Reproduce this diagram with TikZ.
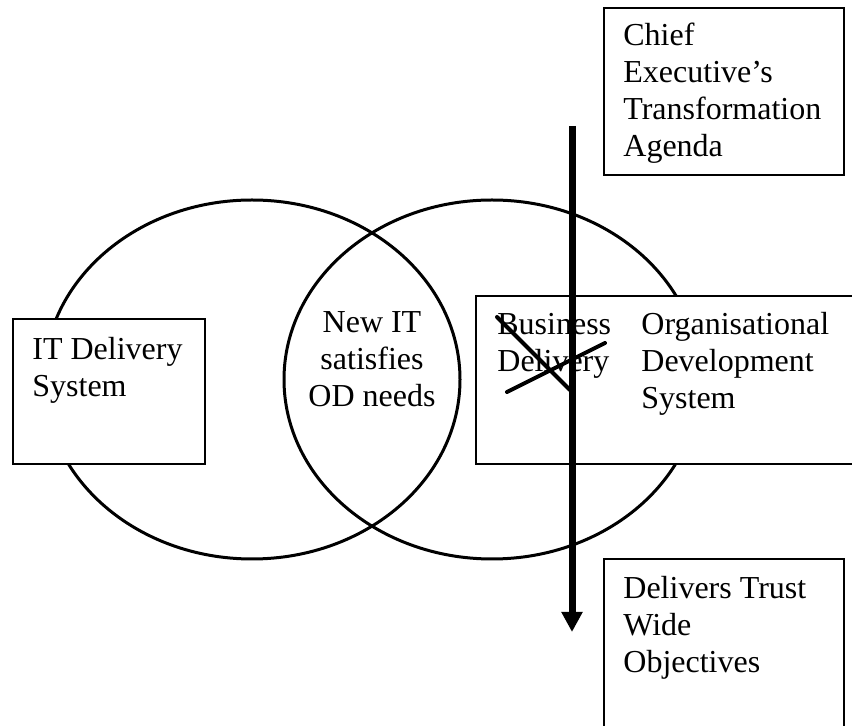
\documentclass[tikz,border=0pt]{standalone}
\usepackage{fontspec}
\setmainfont{Liberation Serif}
\usetikzlibrary{arrows.meta}

\begin{document}
\begin{tikzpicture}[x=0.5pt,y=-0.5pt,
  every node/.style={font=\fontsize{16}{18.5}\selectfont, inner sep=0pt},
  venn/.style={line width=1.5pt},
  box/.style={draw, fill=white, line width=0.9pt, anchor=north west},
  txt/.style={align=left, anchor=base west},
  flow/.style={line width=3.5pt, -{Triangle[width=10pt,length=10pt]}},
  strike/.style={line width=2pt, line cap=round}]
  \useasboundingbox (0,0) rectangle (852,726);
  \clip (0,0) rectangle (852,726);
  \draw[venn] (252,379.5) ellipse [x radius=208, y radius=179.5];
  \draw[venn] (492,379.5) ellipse [x radius=208, y radius=179.5];
  \node[box, minimum width=96pt, minimum height=72.5pt] (itbox) at (12,318) {};
  \node[box, minimum width=240pt, minimum height=84pt] (odbox) at (475,295) {};
  \node[box, minimum width=120pt, minimum height=83.5pt] (chiefbox) at (603,7) {};
  \node[box, minimum width=120pt, minimum height=110pt] (trustbox) at (603,558) {};
  \node[txt] (ittxt) at (32,397) {IT Delivery\\System};
  \node[align=center, anchor=base] (newit) at (372,407) {New IT\\satisfies\\OD needs};
  \node[txt] (biztxt) at (497,372) {Business\\Delivery};
  \node[txt] (odtxt) at (641,409) {Organisational\\Development\\System};
  \node[txt] (chieftxt) at (623,157) {Chief\\Executive’s\\Transformation\\Agenda};
  \node[txt] (trusttxt) at (623,673) {Delivers Trust\\Wide\\Objectives};
  \coordinate (atop) at (572,126);
  \coordinate (aend) at (572,632);
  \draw[flow] (atop) -- (aend);
  \coordinate (xa) at (497,317);
  \coordinate (xb) at (570,390);
  \coordinate (xc) at (507,392);
  \coordinate (xd) at (605,343);
  \draw[strike] (xa) -- (xb);
  \draw[strike] (xc) -- (xd);
\end{tikzpicture}
\end{document}
